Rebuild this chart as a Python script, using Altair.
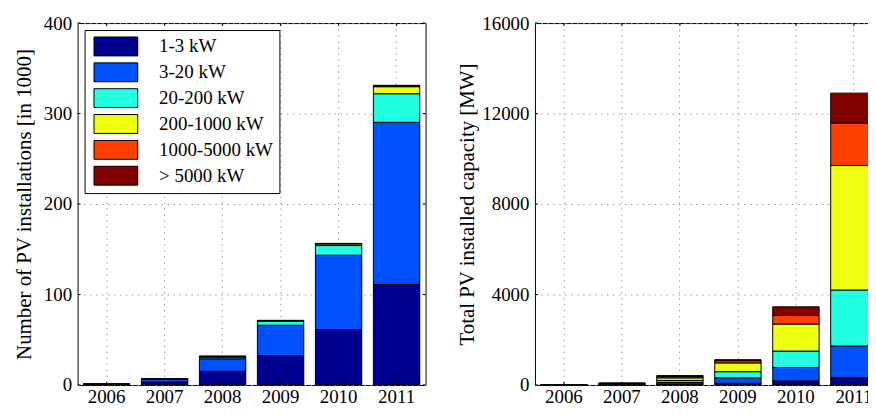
import altair as alt
import pandas as pd

years = ["2006", "2007", "2008", "2009", "2010", "2011"]
classes = ["1-3 kW", "3-20 kW", "20-200 kW", "200-1000 kW", "1000-5000 kW", "> 5000 kW"]
colors = ["#00008f", "#0050ff", "#20ffdf", "#efff10", "#ff4000", "#800000"]

# Number of PV installations [in 1000], per size class, years 2006..2011
inst_1_3 = [0.4, 3.4, 15.1, 32.6, 61.3, 111.1]
inst_3_20 = [0.4, 3.3, 13.8, 33.4, 82.1, 179.2]
inst_20_200 = [0.05, 0.3, 1.7, 4.6, 10.7, 31.6]
inst_200_1000 = [0.0, 0.03, 0.9, 0.6, 1.8, 7.8]
inst_1000_5000 = [0.0, 0.0, 0.2, 0.1, 0.4, 0.9]
inst_5000 = [0.0, 0.0, 0.1, 0.05, 0.2, 0.6]

# Total PV installed capacity [MW], per size class, years 2006..2011
cap_1_3 = [1.5, 10, 43, 72, 179, 320]
cap_3_20 = [3, 25, 72, 243, 596, 1405]
cap_20_200 = [2, 22, 85, 273, 723, 2475]
cap_200_1000 = [1, 13, 115, 387, 1196, 5505]
cap_1000_5000 = [1, 6, 58, 100, 380, 1878]
cap_5000 = [0, 4, 43, 43, 380, 1320]

left_ticks = [0, 100, 200, 300, 400]
right_ticks = [0, 4000, 8000, 12000, 16000]

inst_series = [inst_1_3, inst_3_20, inst_20_200, inst_200_1000, inst_1000_5000, inst_5000]
cap_series = [cap_1_3, cap_3_20, cap_20_200, cap_200_1000, cap_1000_5000, cap_5000]

FONT = "Liberation Serif"
W, H = 350, 364
TICK = 3


def build_df(series):
    rows = []
    for i, (cls, vals) in enumerate(zip(classes, series)):
        for y, v in zip(years, vals):
            rows.append({"year": y, "cls": cls, "idx": i, "value": v})
    return pd.DataFrame(rows)


def panel(series, ticks, title, legend, title_pad):
    df = build_df(series)
    yscale = alt.Scale(domain=[ticks[0], ticks[-1]], nice=False, zero=True)
    xscale = alt.Scale(domain=years, paddingInner=0.2, paddingOuter=0.1)
    bars = alt.Chart(df).mark_bar(stroke="black", strokeWidth=1, opacity=1).encode(
        x=alt.X("year:N", scale=xscale, sort=years,
                axis=alt.Axis(title=None, labelAngle=0, bandPosition=0.5,
                              labelPadding=3)),
        y=alt.Y("value:Q", scale=yscale, stack="zero",
                axis=alt.Axis(values=ticks, title=title, titlePadding=title_pad,
                              labelPadding=6, format="d")),
        color=alt.Color("cls:N", scale=alt.Scale(domain=classes, range=colors),
                        sort=classes, legend=legend),
        order=alt.Order("idx:Q", sort="ascending"),
    )
    # inward tick marks on all four sides of the box (MATLAB style)
    ydf = pd.DataFrame({"value": ticks})
    xdf = pd.DataFrame({"year": years})
    ytl = alt.Chart(ydf).mark_rule(color="black", strokeWidth=1).encode(
        y="value:Q", x=alt.value(0), x2=alt.value(TICK))
    ytr = alt.Chart(ydf).mark_rule(color="black", strokeWidth=1).encode(
        y="value:Q", x=alt.value(W - TICK), x2=alt.value(W))
    xtb = alt.Chart(xdf).mark_rule(color="black", strokeWidth=1).encode(
        x=alt.X("year:N", sort=years), y=alt.value(H - TICK), y2=alt.value(H))
    xtt = alt.Chart(xdf).mark_rule(color="black", strokeWidth=1).encode(
        x=alt.X("year:N", sort=years), y=alt.value(0), y2=alt.value(TICK))
    return alt.layer(bars, ytl, ytr, xtb, xtt).properties(width=W, height=H)


legend = alt.Legend(
    orient="none", legendX=7, legendY=7, title=None,
    symbolType="M-2.2,-0.95H2.2V0.95H-2.2Z", symbolSize=400,
    symbolOffset=15, labelOffset=33,
    symbolStrokeColor="black", symbolStrokeWidth=1, symbolOpacity=1,
    labelFont=FONT, labelFontSize=19, labelColor="black",
    labelLimit=0, strokeColor="black", fillColor="white", padding=6,
    rowPadding=3,
)

left = panel(inst_series, left_ticks, "Number of PV installations [in 1000]", legend, 9)
right = panel(cap_series, right_ticks, "Total PV installed capacity [MW]", None, 4)

# the right panel runs past the page edge, as in the original figure
chart = alt.hconcat(left, right, spacing=30).resolve_legend(color="independent").properties(
    padding={"left": 5, "top": 4, "right": -16, "bottom": 0}, background="white"
).configure_view(
    stroke="black", strokeWidth=1
).configure_axis(
    domain=False, ticks=False, tickSize=0,
    grid=True, gridColor="#9a9a9a", gridDash=[1.5, 4.5], gridWidth=1,
    labelFont=FONT, labelFontSize=19, labelColor="black",
    titleFont=FONT, titleFontSize=21, titleFontWeight="normal", titleColor="black",
)

chart.save("out.html", embed_options={"renderer": "svg", "actions": False})
